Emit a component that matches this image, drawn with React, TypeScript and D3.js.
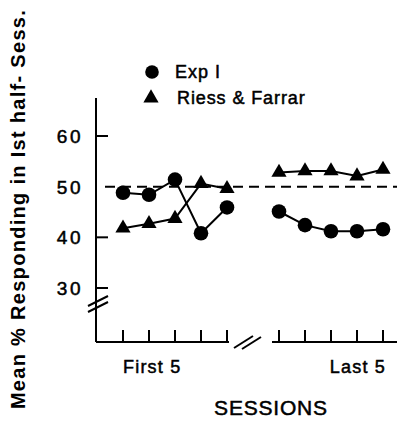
import * as d3 from "d3"

const sessions = ["1", "2", "3", "4", "5"]
const exp1First = [48.8, 48.4, 51.4, 40.8, 45.9]
const exp1Last = [45.1, 42.4, 41.2, 41.2, 41.6]
const riessFirst = [41.8, 42.7, 43.7, 50.6, 49.6]
const riessLast = [52.8, 53.1, 53.1, 52.1, 53.4]
const yTicks = [30, 40, 50, 60]
const groupLabels = ["First 5", "Last 5"]
const legendLabels = ["Exp I", "Riess & Farrar"]

const W = 398
const H = 429
const FONT = "'Liberation Sans', Arial, sans-serif"

const y = d3.scaleLinear().domain([30, 60]).range([288, 136])
const xFirst = d3.scalePoint().domain(sessions).range([123, 227])
const xLast = d3.scalePoint().domain(sessions).range([279, 383])

const axisX = 96
const axisY = 342

const line = (xs: d3.ScalePoint<string>, vals: number[]) =>
  d3.line<number>()
    .x((_, i) => xs(sessions[i]) as number)
    .y((d) => y(d))(vals) as string

const tri = d3.symbol().type(d3.symbolTriangle).size(100)()

// thin outline to thicken the regular weight a bit, like the scanned lettering
const txt = { fontFamily: FONT, stroke: "#000", strokeWidth: 0.5 }

const Circles = ({ xs, vals }: { xs: d3.ScalePoint<string>; vals: number[] }) => (
  <g>
    {vals.map((v, i) => (
      <circle key={i} cx={xs(sessions[i])} cy={y(v)} r={7.3} fill="#000" />
    ))}
  </g>
)

const Triangles = ({ xs, vals }: { xs: d3.ScalePoint<string>; vals: number[] }) => (
  <g>
    {vals.map((v, i) => (
      <path key={i} d={tri as string} transform={`translate(${xs(sessions[i])},${y(v)})`} fill="#000" />
    ))}
  </g>
)

export default function App() {
  const stroke = { stroke: "#000", strokeWidth: 2, fill: "none" }
  return (
    <svg width={W} height={H} style={{ position: "absolute", left: 0, top: 0, background: "#fff" }}>
      {/* y title */}
      <text
        transform={`translate(25,209) rotate(-90)`}
        textAnchor="middle"
        fontFamily={FONT}
        fontWeight="bold"
        fontSize={20}
        letterSpacing={1.3}
      >
        Mean % Responding in Ist half- Sess.
      </text>

      {/* legend */}
      <circle cx={152} cy={72} r={6.8} fill="#000" />
      <text x={175} y={78} fontSize={18} letterSpacing={1} {...txt}>{legendLabels[0]}</text>
      <path d={tri as string} transform="translate(151,98)" fill="#000" />
      <text x={177} y={104} fontSize={18} letterSpacing={0.9} {...txt}>{legendLabels[1]}</text>

      {/* y axis */}
      <line x1={axisX} x2={axisX} y1={98} y2={axisY} {...stroke} />
      {yTicks.filter((t) => t !== 50).map((t) => (
        <line key={t} x1={axisX} x2={axisX + 12} y1={y(t)} y2={y(t)} {...stroke} />
      ))}
      {yTicks.map((t) => (
        <text key={t} x={83} y={y(t) + 7} textAnchor="end" fontSize={19} letterSpacing={2.5} {...txt}>
          {t}
        </text>
      ))}
      <line x1={88} x2={108} y1={306} y2={296} {...stroke} />
      <line x1={88} x2={108} y1={312} y2={302} {...stroke} />

      {/* x axis */}
      <line x1={axisX} x2={229} y1={axisY} y2={axisY} {...stroke} />
      <line x1={272} x2={397} y1={axisY} y2={axisY} {...stroke} />
      {sessions.map((s) => (
        <g key={s}>
          <line x1={xFirst(s)} x2={xFirst(s)} y1={axisY} y2={axisY - 12} {...stroke} />
          <line x1={xLast(s)} x2={xLast(s)} y1={axisY} y2={axisY - 12} {...stroke} />
        </g>
      ))}
      <line x1={234} x2={253} y1={348} y2={336} {...stroke} />
      <line x1={242} x2={261} y1={349} y2={337} {...stroke} />

      <text x={123} y={373} fontSize={18} letterSpacing={1.2} {...txt}>{groupLabels[0]}</text>
      <text x={386} y={373} textAnchor="end" fontSize={18} letterSpacing={1.2} {...txt}>{groupLabels[1]}</text>
      <text x={271} y={415} textAnchor="middle" fontSize={21} letterSpacing={0.8} {...txt}>SESSIONS</text>

      {/* reference line */}
      <line x1={105} x2={397} y1={y(50)} y2={y(50)} stroke="#000" strokeWidth={2} strokeDasharray="10,6" />

      {/* series */}
      <path d={line(xFirst, exp1First)} {...stroke} />
      <path d={line(xLast, exp1Last)} {...stroke} />
      <path d={line(xFirst, riessFirst)} {...stroke} />
      <path d={line(xLast, riessLast)} {...stroke} />
      <Circles xs={xFirst} vals={exp1First} />
      <Circles xs={xLast} vals={exp1Last} />
      <Triangles xs={xFirst} vals={riessFirst} />
      <Triangles xs={xLast} vals={riessLast} />
    </svg>
  )
}
